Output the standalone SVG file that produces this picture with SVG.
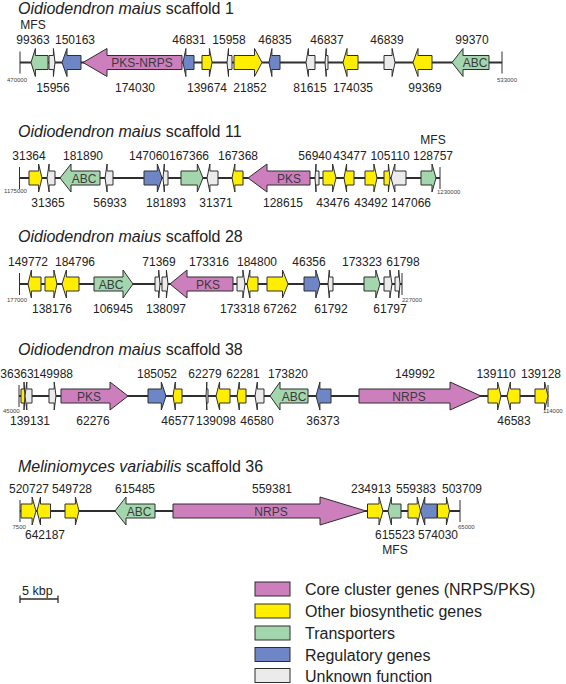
<svg xmlns="http://www.w3.org/2000/svg" width="566" height="684" viewBox="0 0 566 684">
<style>
text{font-family:"Liberation Sans",Arial,sans-serif;fill:#222}
.ti{font-size:16px}
.n{font-size:12px;text-anchor:middle}
.in{font-size:12px;text-anchor:middle;fill:#3a3a3a}
.e{font-size:6px;fill:#444}
.lg{font-size:16px}
path.g,rect.lb{stroke:#2e2e2e;stroke-width:1;stroke-miterlimit:12}
.core{fill:#cd7fbd}.bio{fill:#ffee00}.tr{fill:#a4d6ae}.reg{fill:#6e86c6}.unk{fill:#ebebeb}
.bb{stroke:#2e2e2e;stroke-width:2;fill:none}
.tk{stroke:#2e2e2e;stroke-width:1;fill:none}
</style>

<!-- titles -->
<text class="ti" x="18" y="14"><tspan font-style="italic">Oidiodendron maius</tspan> scaffold 1</text>
<text class="ti" x="18" y="137"><tspan font-style="italic">Oidiodendron maius</tspan> scaffold 11</text>
<text class="ti" x="18" y="242"><tspan font-style="italic">Oidiodendron maius</tspan> scaffold 28</text>
<text class="ti" x="18" y="355"><tspan font-style="italic">Oidiodendron maius</tspan> scaffold 38</text>
<text class="ti" x="18" y="472"><tspan font-style="italic">Meliniomyces variabilis</tspan> scaffold 36</text>

<!-- backbones (connectors) -->
<g id="connectors">
<path class="bb" d="M20 62.5H502M19.5 178H440M19.5 284H402M19 396H548M20 511H460"/>
<path class="tk" d="M20 51.5V73.5M502 51.5V73.5M19.5 167V189M440 167V189M19.5 273V295M402 273V295M19 385V407M548 385V407M20 500V522M460 500V522"/>
</g>

<!-- coordinate labels -->
<g id="coords">
<text class="e" x="7" y="82">470000</text><text class="e" x="497" y="82">533000</text>
<text class="e" x="4" y="193">1175000</text><text class="e" x="437" y="194">1230000</text>
<text class="e" x="7" y="302">177000</text><text class="e" x="402" y="302">227000</text>
<text class="e" x="3" y="413">45000</text><text class="e" x="543" y="413">114000</text>
<text class="e" x="12.5" y="529">7500</text><text class="e" x="458" y="529">65000</text>
</g>

<!-- scaffold 1 -->
<g id="scaffold1" transform="translate(0,62.5)">
<g id="s1_99363"><path class="g tr" d="M48 -7H35.4V-14L31 0L35.4 14V7H48Z"/><text class="n" x="33" y="-34">MFS</text><text class="n" x="33" y="-18.5">99363</text></g>
<g id="s1_15956"><path class="g unk" d="M49 -7H53.4V-14L55 0L53.4 14V7H49Z"/><text class="n" x="53" y="29.5">15956</text></g>
<g id="s1_150163"><path class="g reg" d="M81 -7H67V-14L62 0L67 14V7H81Z"/><text class="n" x="75" y="-18.5">150163</text></g>
<g id="s1_174030"><path class="g core" d="M182 -7H107V-14L83 0L107 14V7H182Z"/><text class="in" x="142" y="4.5">PKS-NRPS</text><text class="n" x="135" y="29.5">174030</text></g>
<g id="s1_46831"><path class="g reg" d="M194 -7H185.9V-14L183 0L185.9 14V7H194Z"/><text class="n" x="189" y="-18.5">46831</text></g>
<g id="s1_139674"><path class="g bio" d="M202 -7H209.4V-14L212 0L209.4 14V7H202Z"/><text class="n" x="207" y="29.5">139674</text></g>
<g id="s1_15958"><path class="g unk" d="M232 -7H228.5V-14L227 0L228.5 14V7H232Z"/><text class="n" x="229" y="-18.5">15958</text></g>
<g id="s1_21852"><path class="g bio" d="M234 -7H254.5V-14L262 0L254.5 14V7H234Z"/><text class="n" x="250" y="29.5">21852</text></g>
<g id="s1_46835"><path class="g reg" d="M280 -7H271.9V-14L269 0L271.9 14V7H280Z"/><text class="n" x="275" y="-18.5">46835</text></g>
<g id="s1_81615"><path class="g unk" d="M315 -7H308.4V-14L306 0L308.4 14V7H315Z"/><text class="n" x="310" y="29.5">81615</text></g>
<g id="s1_46837"><path class="g unk" d="M328 -7H326.2V-14L325 0L326.2 14V7H328Z"/><text class="n" x="327" y="-18.5">46837</text></g>
<g id="s1_174035"><path class="g bio" d="M358 -7H347V-14L343 0L347 14V7H358Z"/><text class="n" x="353" y="29.5">174035</text></g>
<g id="s1_46839"><path class="g unk" d="M384 -7H392.1V-14L395 0L392.1 14V7H384Z"/><text class="n" x="387" y="-18.5">46839</text></g>
<g id="s1_99369"><path class="g bio" d="M432 -7H418V-14L413 0L418 14V7H432Z"/><text class="n" x="425" y="29.5">99369</text></g>
<g id="s1_99370"><path class="g tr" d="M489 -7H463V-14L452 0L463 14V7H489Z"/><text class="in" x="475" y="4.5">ABC</text><text class="n" x="472" y="-18.5">99370</text></g>
</g>

<!-- scaffold 11 -->
<g id="scaffold11" transform="translate(0,178)">
<g id="s11_31364"><path class="g bio" d="M29 -7H38.6V-14L42 0L38.6 14V7H29Z"/><text class="n" x="29" y="-18.5">31364</text></g>
<g id="s11_31365"><path class="g unk" d="M55 -7H49.1V-14L47 0L49.1 14V7H55Z"/><text class="n" x="48" y="29">31365</text></g>
<g id="s11_181890"><path class="g tr" d="M100 -7H71V-14L60 0L71 14V7H100Z"/><text class="in" x="84" y="4.5">ABC</text><text class="n" x="83" y="-18.5">181890</text></g>
<g id="s11_56933"><path class="g unk" d="M113 -7H107.1V-14L105 0L107.1 14V7H113Z"/><text class="n" x="110" y="29">56933</text></g>
<g id="s11_147060"><path class="g reg" d="M144 -7H157.3V-14L162 0L157.3 14V7H144Z"/><text class="n" x="149" y="-18.5">147060</text></g>
<g id="s11_181893"><path class="g unk" d="M168 -7H164.3V-14L163 0L164.3 14V7H168Z"/><text class="n" x="166" y="29">181893</text></g>
<g id="s11_167366"><path class="g tr" d="M181 -7H197.3V-14L203 0L197.3 14V7H181Z"/><text class="n" x="189" y="-18.5">167366</text></g>
<g id="s11_31371"><path class="g unk" d="M218 -7H209.9V-14L207 0L209.9 14V7H218Z"/><text class="n" x="216" y="29">31371</text></g>
<g id="s11_167368"><path class="g bio" d="M243 -7H234.9V-14L232 0L234.9 14V7H243Z"/><text class="n" x="238" y="-18.5">167368</text></g>
<g id="s11_128615"><path class="g core" d="M310 -7H267V-14L248 0L267 14V7H310Z"/><text class="in" x="289" y="4.5">PKS</text><text class="n" x="283" y="29">128615</text></g>
<g id="s11_56940"><path class="g unk" d="M319 -7H316V-14L315 0L316 14V7H319Z"/><text class="n" x="315" y="-18.5">56940</text></g>
<g id="s11_43476"><path class="g bio" d="M323 -7H332.6V-14L336 0L332.6 14V7H323Z"/><text class="n" x="333" y="29">43476</text></g>
<g id="s11_43477"><path class="g bio" d="M354 -7H346.6V-14L344 0L346.6 14V7H354Z"/><text class="n" x="350" y="-18.5">43477</text></g>
<g id="s11_43492"><path class="g bio" d="M365 -7H373.9V-14L377 0L373.9 14V7H365Z"/><text class="n" x="371" y="29">43492</text></g>
<g id="s11_105110"><path class="g bio" d="M384 -7H388.4V-14L390 0L388.4 14V7H384Z"/><text class="n" x="390" y="-18.5">105110</text></g>
<g id="s11_147066"><path class="g unk" d="M406 -7H394.9V-14L391 0L394.9 14V7H406Z"/><text class="n" x="411" y="29">147066</text></g>
<g id="s11_128757"><path class="g tr" d="M421 -7H432V-14L436 0L432 14V7H421Z"/><text class="n" x="433" y="-34">MFS</text><text class="n" x="433" y="-18.5">128757</text></g>
</g>

<!-- scaffold 28 -->
<g id="scaffold28" transform="translate(0,284)">
<g id="s28_149772"><path class="g bio" d="M41 -7H31.4V-14L28 0L31.4 14V7H41Z"/><text class="n" x="28" y="-18.5">149772</text></g>
<g id="s28_138176"><path class="g bio" d="M45 -7H53.9V-14L57 0L53.9 14V7H45Z"/><text class="n" x="52" y="29">138176</text></g>
<g id="s28_184796"><path class="g bio" d="M79 -7H66.4V-14L62 0L66.4 14V7H79Z"/><text class="n" x="75" y="-18.5">184796</text></g>
<g id="s28_106945"><path class="g tr" d="M94 -7H123V-14L133 0L123 14V7H94Z"/><text class="in" x="111" y="4.5">ABC</text><text class="n" x="113" y="29">106945</text></g>
<g id="s28_71369"><path class="g unk" d="M155 -7H158.7V-14L160 0L158.7 14V7H155Z"/><text class="n" x="159" y="-18.5">71369</text></g>
<g id="s28_138097"><path class="g unk" d="M162 -7H166.4V-14L168 0L166.4 14V7H162Z"/><text class="n" x="166" y="29">138097</text></g>
<g id="s28_173316"><path class="g core" d="M233 -7H187V-14L170 0L187 14V7H233Z"/><text class="in" x="208" y="4.5">PKS</text><text class="n" x="209" y="-18.5">173316</text></g>
<g id="s28_173318"><path class="g unk" d="M237 -7H242.9V-14L245 0L242.9 14V7H237Z"/><text class="n" x="240" y="29">173318</text></g>
<g id="s28_184800"><path class="g bio" d="M258 -7H249.9V-14L247 0L249.9 14V7H258Z"/><text class="n" x="257" y="-18.5">184800</text></g>
<g id="s28_67262"><path class="g bio" d="M267 -7H282.5V-14L288 0L282.5 14V7H267Z"/><text class="n" x="280" y="29">67262</text></g>
<g id="s28_46356"><path class="g reg" d="M304 -7H315.8V-14L320 0L315.8 14V7H304Z"/><text class="n" x="309" y="-18.5">46356</text></g>
<g id="s28_61792"><path class="g unk" d="M333 -7H329.3V-14L328 0L329.3 14V7H333Z"/><text class="n" x="331" y="29">61792</text></g>
<g id="s28_173323"><path class="g tr" d="M364 -7H375.8V-14L380 0L375.8 14V7H364Z"/><text class="n" x="362" y="-18.5">173323</text></g>
<g id="s28_61797"><path class="g unk" d="M384 -7H389.9V-14L392 0L389.9 14V7H384Z"/><text class="n" x="390" y="29">61797</text></g>
<g id="s28_61798"><path class="g unk" d="M395 -7H398.7V-14L400 0L398.7 14V7H395Z"/><text class="n" x="403" y="-18.5">61798</text></g>
</g>

<!-- scaffold 38 -->
<g id="scaffold38" transform="translate(0,396)">
<g id="s38_36363"><path class="g bio" d="M21 -7H24V-14L25 0L24 14V7H21Z"/><text class="n" x="17" y="-18.5">36363</text></g>
<g id="s38_139131"><path class="g unk" d="M32 -7H26.8V-14L25 0L26.8 14V7H32Z"/><text class="n" x="30" y="29">139131</text></g>
<g id="s38_149988"><path class="g unk" d="M49 -7H54.2V-14L56 0L54.2 14V7H49Z"/><text class="n" x="53" y="-18.5">149988</text></g>
<g id="s38_62276"><path class="g core" d="M61 -7H110V-14L128 0L110 14V7H61Z"/><text class="in" x="89" y="4.5">PKS</text><text class="n" x="93" y="29">62276</text></g>
<g id="s38_185052"><path class="g reg" d="M148 -7H161.3V-14L166 0L161.3 14V7H148Z"/><text class="n" x="157" y="-18.5">185052</text></g>
<g id="s38_46577"><path class="g bio" d="M182 -7H175.3V-14L173 0L175.3 14V7H182Z"/><text class="n" x="178" y="29">46577</text></g>
<g id="s38_62279"><path class="g unk" d="M208 -7H206.8V-14L206 0L206.8 14V7H208Z"/><text class="n" x="205" y="-18.5">62279</text></g>
<g id="s38_139098"><path class="g bio" d="M230 -7H219.6V-14L216 0L219.6 14V7H230Z"/><text class="n" x="216" y="29">139098</text></g>
<g id="s38_62281"><path class="g bio" d="M246 -7H239.3V-14L237 0L239.3 14V7H246Z"/><text class="n" x="243" y="-18.5">62281</text></g>
<g id="s38_46580"><path class="g unk" d="M264 -7H257.3V-14L255 0L257.3 14V7H264Z"/><text class="n" x="257" y="29">46580</text></g>
<g id="s38_173820"><path class="g tr" d="M308 -7H280V-14L270 0L280 14V7H308Z"/><text class="in" x="294" y="4.5">ABC</text><text class="n" x="288" y="-18.5">173820</text></g>
<g id="s38_36373"><path class="g reg" d="M331 -7H319.9V-14L316 0L319.9 14V7H331Z"/><text class="n" x="323" y="29">36373</text></g>
<g id="s38_149992"><path class="g core" d="M359 -7H450V-14L481 0L450 14V7H359Z"/><text class="in" x="409" y="4.5">NRPS</text><text class="n" x="415" y="-18.5">149992</text></g>
<g id="s38_139110"><path class="g bio" d="M488 -7H497.6V-14L501 0L497.6 14V7H488Z"/><text class="n" x="496" y="-18.5">139110</text></g>
<g id="s38_46583"><path class="g bio" d="M520 -7H510.4V-14L507 0L510.4 14V7H520Z"/><text class="n" x="514" y="29">46583</text></g>
<g id="s38_139128"><path class="g bio" d="M535 -7H544.6V-14L548 0L544.6 14V7H535Z"/><text class="n" x="541" y="-18.5">139128</text></g>
</g>

<!-- Meliniomyces scaffold 36 -->
<g id="scaffold36" transform="translate(0,511)">
<g id="m36_520727"><path class="g bio" d="M21 -7H32.1V-14L36 0L32.1 14V7H21Z"/><text class="n" x="29" y="-18">520727</text></g>
<g id="m36_642187"><path class="g bio" d="M50.5 -7H40.5V-14L37 0L40.5 14V7H50.5Z"/><text class="n" x="45" y="28">642187</text></g>
<g id="m36_549728"><path class="g bio" d="M65 -7H75.4V-14L79 0L75.4 14V7H65Z"/><text class="n" x="72" y="-18">549728</text></g>
<g id="m36_615485"><path class="g tr" d="M155 -7H126V-14L115 0L126 14V7H155Z"/><text class="in" x="139" y="4.5">ABC</text><text class="n" x="135" y="-18">615485</text></g>
<g id="m36_559381"><path class="g core" d="M173 -7H320V-14L366 0L320 14V7H173Z"/><text class="in" x="271" y="4.5">NRPS</text><text class="n" x="272" y="-18">559381</text></g>
<g id="m36_234913"><path class="g bio" d="M367.5 -7H379V-14L383 0L379 14V7H367.5Z"/><text class="n" x="371" y="-18">234913</text></g>
<g id="m36_615523"><path class="g tr" d="M401 -7H391.4V-14L388 0L391.4 14V7H401Z"/><text class="n" x="395" y="28">615523</text><text class="n" x="395" y="42.5">MFS</text></g>
<g id="m36_559383"><path class="g bio" d="M408 -7H417.2V-14L420.5 0L417.2 14V7H408Z"/><text class="n" x="416" y="-18">559383</text></g>
<g id="m36_574030"><path class="g reg" d="M437 -7H424.8V-14L420.5 0L424.8 14V7H437Z"/><text class="n" x="438" y="28">574030</text></g>
<g id="m36_503709"><path class="g bio" d="M437.5 -7H446.4V-14L449.5 0L446.4 14V7H437.5Z"/><text class="n" x="462" y="-18">503709</text></g>
</g>

<!-- scale bar -->
<g id="scalebar">
<text x="22" y="595" style="font-size:12.5px">5 kbp</text>
<path class="tk" d="M20 599H58M20 595.5V603M58 595.5V603" style="stroke-width:1.3"/>
</g>

<!-- legend -->
<g id="legend">
<g id="leg_core"><rect class="lb core" x="255" y="582" width="35" height="14"/><text class="lg" x="305" y="595">Core cluster genes (NRPS/PKS)</text></g>
<g id="leg_bio"><rect class="lb bio" x="255" y="604" width="35" height="14"/><text class="lg" x="305" y="617">Other biosynthetic genes</text></g>
<g id="leg_tr"><rect class="lb tr" x="255" y="626" width="35" height="14"/><text class="lg" x="305" y="639">Transporters</text></g>
<g id="leg_reg"><rect class="lb reg" x="255" y="647.5" width="35" height="14"/><text class="lg" x="305" y="660.5">Regulatory genes</text></g>
<g id="leg_unk"><rect class="lb unk" x="255" y="668.5" width="35" height="14"/><text class="lg" x="305" y="681.5">Unknown function</text></g>
</g>
</svg>
